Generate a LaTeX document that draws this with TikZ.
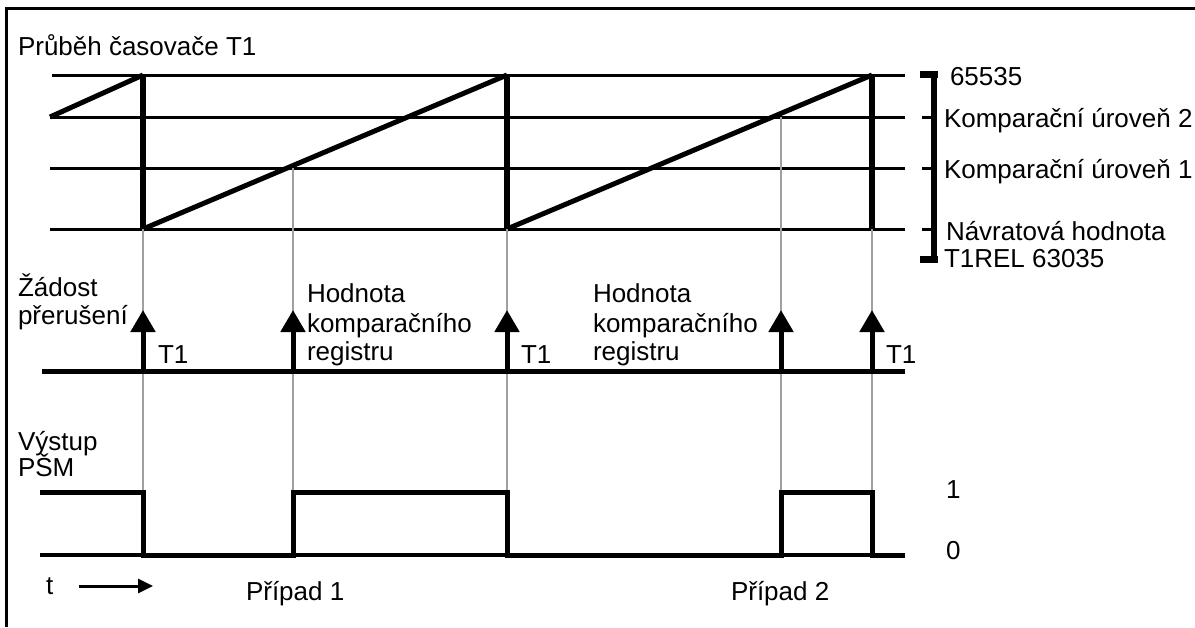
\documentclass[tikz,border=0pt]{standalone}
\usepackage{fontspec}
\setmainfont{Liberation Sans}
\usetikzlibrary{arrows.meta}
\definecolor{guidegray}{RGB}{160,160,160}
\begin{document}
\begin{tikzpicture}[x=1pt,y=-1pt,
  lbl/.style={inner sep=0pt, outer sep=0pt, font=\fontsize{26}{31}\selectfont, anchor=base west},
  frameline/.style={line width=3pt},
  levelline/.style={line width=3pt},
  saw/.style={line width=5pt, line join=miter},
  drop/.style={line width=6pt},
  guide/.style={line width=2pt, draw=guidegray},
  irqline/.style={line width=5pt},
  irq/.style={line width=5pt, -{Triangle[length=22pt,width=24pt]}},
  sig/.style={line width=5pt, line join=miter},
  base0/.style={line width=3.5pt},
  brk/.style={line width=6pt},
  brkcap/.style={line width=7pt},
  tick/.style={line width=3pt},
  tarrow/.style={line width=3pt, -{Triangle[length=15pt,width=14pt]}}
]
\useasboundingbox (0,0) rectangle (1195,627);
% frame
\coordinate (fTL) at (6,8);
\coordinate (fTR) at (1195,8);
\coordinate (fBL) at (6,627);
\draw[frameline] (fTR) -- (fTL) -- (fBL);

% level lines
\foreach \n/\y/\xs in {top/75/52, k2/117/50, k1/168/50, ret/229/50}{
  \coordinate (\n L) at (\xs,\y);
  \coordinate (\n R) at (905,\y);
  \draw[levelline] (\n L) -- (\n R);
}

% sawtooth
\coordinate (s0) at (50,117);
\coordinate (s1t) at (143,75);
\coordinate (s1b) at (143,229);
\coordinate (s2t) at (507,75);
\coordinate (s2b) at (507,229);
\coordinate (s3t) at (872,75);
\coordinate (s3b) at (872,229);
\draw[saw] (s0) -- (s1t);
\draw[saw] (s1b) -- (s2t);
\draw[saw] (s2b) -- (s3t);
\draw[drop] (s1t) -- (s1b);
\draw[drop] (s2t) -- (s2b);
\draw[drop] (s3t) -- (s3b);

% guide lines (gray)
\coordinate (g1a) at (143,229); \coordinate (g1b) at (143,492);
\coordinate (g2a) at (293,168); \coordinate (g2b) at (293,492);
\coordinate (g3a) at (507,229); \coordinate (g3b) at (507,492);
\coordinate (g4a) at (781,117); \coordinate (g4b) at (781,492);
\coordinate (g5a) at (872,229); \coordinate (g5b) at (872,492);
\foreach \i in {1,...,5}{ \draw[guide] (g\i a) -- (g\i b); }

% interrupt line and arrows
\coordinate (iL) at (42,371);
\coordinate (iR) at (905,371);
\draw[irqline] (iL) -- (iR);
\foreach \i/\x in {1/143,2/293,3/507,4/781,5/872}{
  \coordinate (a\i b) at (\x,371);
  \coordinate (a\i t) at (\x,310);
  \draw[irq] (a\i b) -- (a\i t);
}

% PWM output
\coordinate (p0) at (40,492);
\coordinate (p1) at (143,492);
\coordinate (p2) at (143,555);
\coordinate (p3) at (293,555);
\coordinate (p4) at (293,492);
\coordinate (p5) at (507,492);
\coordinate (p6) at (507,555);
\coordinate (p7) at (781,555);
\coordinate (p8) at (781,492);
\coordinate (p9) at (872,492);
\coordinate (p10) at (872,555);
\coordinate (p11) at (905,555);
\coordinate (zL) at (40,555);
\draw[base0] (zL) -- (p11);
\draw[sig] (p0) -- (p1) -- (p2) -- (p3) -- (p4) -- (p5) -- (p6) -- (p7) -- (p8) -- (p9) -- (p10) -- (p11);

% bracket
\coordinate (bT) at (934,74);
\coordinate (bB) at (934,259);
\draw[brk] (bT) -- (bB);
\coordinate (bTL) at (920,74); \coordinate (bTR) at (938,74);
\coordinate (bBL) at (920,259); \coordinate (bBR) at (938,259);
\draw[brkcap] (bTL) -- (bTR);
\draw[brkcap] (bBL) -- (bBR);
\foreach \n/\y in {k2/117,k1/168,ret/229}{
  \coordinate (t\n a) at (922,\y); \coordinate (t\n b) at (934,\y);
  \draw[tick] (t\n a) -- (t\n b);
}

% time arrow
\coordinate (ta) at (79,586);
\coordinate (tb) at (153,586);
\draw[tarrow] (ta) -- (tb);

% texts
\node[lbl] (title) at (18,55) {Průběh časovače T1};
\node[lbl] (v65535) at (950,85) {65535};
\node[lbl] (komp2) at (944,127) {Komparační úroveň 2};
\node[lbl] (komp1) at (944,178) {Komparační úroveň 1};
\node[lbl] (navr1) at (946,240) {Návratová hodnota};
\node[lbl] (navr2) at (944,267) {T1REL 63035};
\node[lbl] (zad1) at (18,296) {Žádost};
\node[lbl] (zad2) at (18,324) {přerušení};
\node[lbl] (tone1) at (158,363) {T1};
\node[lbl] (tone2) at (521,363) {T1};
\node[lbl] (tone3) at (886,363) {T1};
\node[lbl] (hA1) at (307,302) {Hodnota};
\node[lbl] (hA2) at (307,332) {komparačního};
\node[lbl] (hA3) at (307,360) {registru};
\node[lbl] (hB1) at (593,302) {Hodnota};
\node[lbl] (hB2) at (593,332) {komparačního};
\node[lbl] (hB3) at (593,360) {registru};
\node[lbl] (vy1) at (18,450) {Výstup};
\node[lbl] (vy2) at (18,476) {PŠM};
\node[lbl] (one) at (946,498) {1};
\node[lbl] (zero) at (946,559) {0};
\node[lbl] (tt) at (46,594) {t};
\node[lbl] (pr1) at (246,600) {Případ 1};
\node[lbl] (pr2) at (731,600) {Případ 2};
\end{tikzpicture}
\end{document}
